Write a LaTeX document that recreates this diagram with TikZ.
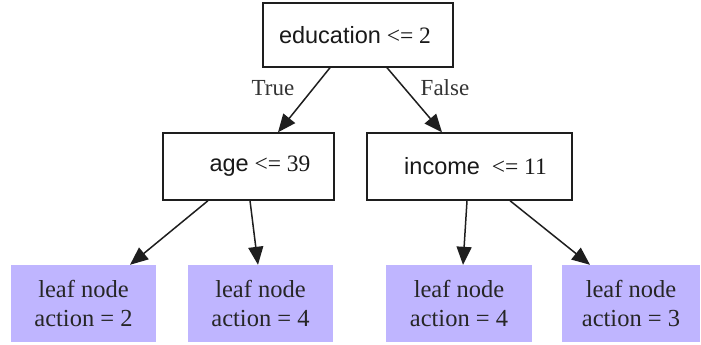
\documentclass[tikz,border=0pt]{standalone}
\usepackage{fontspec}
\setmainfont{Liberation Serif}
\newfontfamily\arialf{Liberation Sans}
\usetikzlibrary{arrows.meta}
\definecolor{leafc}{RGB}{191,181,255}
\definecolor{edgec}{RGB}{30,30,30}
\tikzset{
  decbox/.style={draw=edgec, line width=1.4pt, fill=white, inner sep=0pt},
  dectext/.style={font=\fontsize{23.5}{27}\selectfont, text=black!90},
  leafbox/.style={fill=leafc, inner sep=0pt, align=center, minimum width=145pt, minimum height=77pt, font=\fontsize{24.5}{29}\selectfont, text=black!85},
  conn/.style={draw=edgec, line width=1.5pt, -{Triangle[length=18pt,width=15pt]}},
  elabel/.style={font=\fontsize{23}{27}\selectfont, text=black!80}
}
\begin{document}
\begin{tikzpicture}[x=1pt,y=-1pt]
\useasboundingbox (0,0) rectangle (701,345);
\node[decbox, minimum width=190pt, minimum height=64pt] (root) at (358,35) {};
\node[dectext] at (355,35) (roott) {{\arialf education} {<}= 2};
\node[decbox, minimum width=171pt, minimum height=67pt] (age) at (248.5,166.5) {};
\node[dectext] at (260,166.5) (aget) {{\arialf age} {<}= 39};
\node[decbox, minimum width=205pt, minimum height=67pt] (inc) at (469.5,166.5) {};
\node[dectext] at (475.5,166.5) (inct) {{\arialf income}\ \ {<}= 11};
\node[leafbox] (l1) at (83.5,303.5) {leaf node\\action = 2};
\node[leafbox] (l2) at (260.5,303.5) {leaf node\\action = 4};
\node[leafbox, minimum width=146pt] (l3) at (459,303.5) {leaf node\\action = 4};
\node[leafbox, minimum width=138pt] (l4) at (631,303.5) {leaf node\\action = 3};
\node[elabel] (tl) at (273,88) {True};
\node[elabel] (fl) at (445,88) {False};
\draw[conn] ([xshift=-28pt]root.south) -- ([xshift=29.5pt]age.north);
\draw[conn] ([xshift=29pt]root.south) -- ([xshift=-27.5pt]inc.north);
\draw[conn] ([xshift=-40.5pt]age.south) -- ([xshift=46.5pt]l1.north);
\draw[conn] ([xshift=1.5pt]age.south) -- ([xshift=-2.5pt]l2.north);
\draw[conn] ([xshift=-2.5pt]inc.south) -- ([xshift=4pt]l3.north);
\draw[conn] ([xshift=40.5pt]inc.south) -- ([xshift=-41pt]l4.north);
\end{tikzpicture}
\end{document}
